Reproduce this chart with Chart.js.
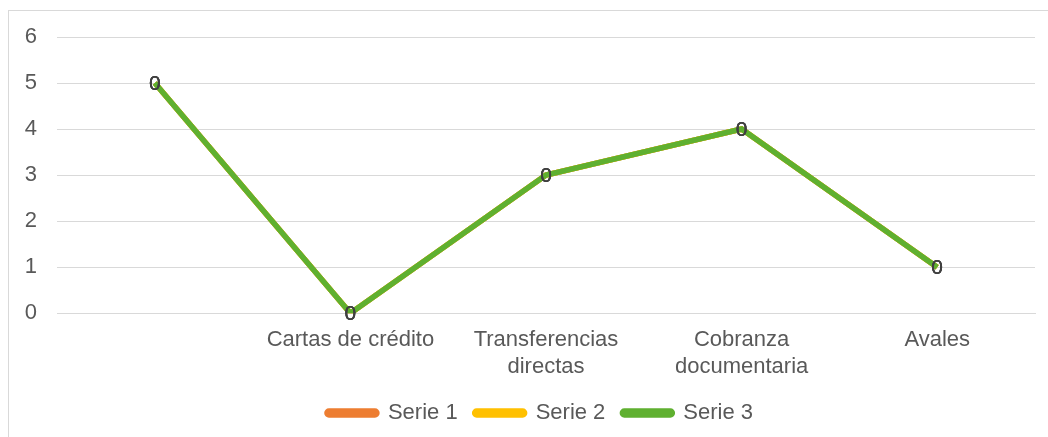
<!DOCTYPE html>
<html>
<head>
<meta charset="utf-8">
<script src="https://cdn.jsdelivr.net/npm/chart.js@4.4.1/dist/chart.umd.min.js"></script>
<style>
  body { margin: 0; background: #fff; overflow: hidden; }
  #wrap { position: relative; width: 1048px; height: 437px; overflow: hidden; }
  #frame { position: absolute; left: 8px; top: 10px; width: 1100px; height: 500px; border: 1px solid #d9d9d9; }
  canvas { position: absolute; left: 0; top: 0; }
</style>
</head>
<body>
<div id="wrap">
  <div id="frame"></div>
  <canvas id="myChart" width="1080" height="437"></canvas>
</div>
<script>
// datos del gráfico
const categorias = ['', 'Cartas de crédito', ['Transferencias', 'directas'], ['Cobranza', 'documentaria'], 'Avales'];
const serie1 = [5, 0, 3, 4, 1];
const serie2 = [5, 0, 3, 4, 1];
const serie3 = [5, 0, 3, 4, 1];
const etiquetas = ['0', '0', '0', '0', '0'];
const ticksY = [0, 1, 2, 3, 4, 5, 6];

const fuente = 'Liberation Sans, Arial, sans-serif';

// etiquetas "0" sobre cada punto
const etiquetasPlugin = {
    id: 'etiquetas',
    afterDatasetsDraw(chart) {
        const ctx = chart.ctx;
        ctx.save();
        ctx.font = '21px ' + fuente;
        ctx.fillStyle = '#404040';
        ctx.textAlign = 'center';
        ctx.textBaseline = 'middle';
        chart.data.datasets.forEach((ds, i) => {
            chart.getDatasetMeta(i).data.forEach((pt, j) => {
                ctx.fillText(etiquetas[j], pt.x, pt.y + 1);
            });
        });
        ctx.restore();
    }
};

const ctx_line = document.getElementById('myChart').getContext('2d');
const myChart_line = new Chart(ctx_line, {
    type: 'line',
    data: {
        labels: categorias,
        datasets: [
            { label: 'Serie 1', data: serie1, order: 3, borderColor: '#ED7D31', backgroundColor: '#ED7D31', borderWidth: 5.5, pointRadius: 0 },
            { label: 'Serie 2', data: serie2, order: 2, borderColor: '#FFC000', backgroundColor: '#FFC000', borderWidth: 5.5, pointRadius: 0 },
            { label: 'Serie 3', data: serie3, order: 1, borderColor: '#5FB030', backgroundColor: '#5FB030', borderWidth: 5.5, pointRadius: 0 }
        ]
    },
    options: {
        responsive: false,
        animation: false,
        layout: { padding: { left: 8, right: 8, top: 37, bottom: 3 } },
        scales: {
            x: {
                offset: true,
                grid: { display: false, drawTicks: false },
                border: { color: '#d9d9d9' },
                afterFit(scale) { scale.height -= 9; },
                ticks: { color: '#595959', font: { family: fuente, size: 22, lineHeight: 1.2 }, maxRotation: 0, autoSkip: false, padding: 14 }
            },
            y: {
                min: 0,
                max: 6,
                afterBuildTicks(scale) { scale.ticks = ticksY.map(v => ({ value: v })); },
                afterFit(scale) { scale.width = 49; },
                grid: { color: '#d9d9d9', drawTicks: false },
                border: { display: false },
                ticks: { color: '#595959', font: { family: fuente, size: 22 }, padding: 20 }
            },
            // eje vacío a la derecha para centrar la leyenda como en el original
            y2: {
                position: 'right',
                min: 0,
                max: 6,
                afterFit(scale) { scale.width = 37; },
                grid: { display: false, drawTicks: false },
                border: { display: false },
                ticks: { display: false }
            }
        },
        plugins: {
            legend: {
                position: 'bottom',
                labels: {
                    color: '#595959', font: { family: fuente, size: 22 }, boxWidth: 50, boxHeight: 4, padding: 17,
                    useBorderRadius: true, borderRadius: 2,
                    sort: (a, b) => a.datasetIndex - b.datasetIndex
                }
            },
            tooltip: { enabled: false }
        }
    },
    plugins: [etiquetasPlugin]
});
</script>
</body>
</html>
